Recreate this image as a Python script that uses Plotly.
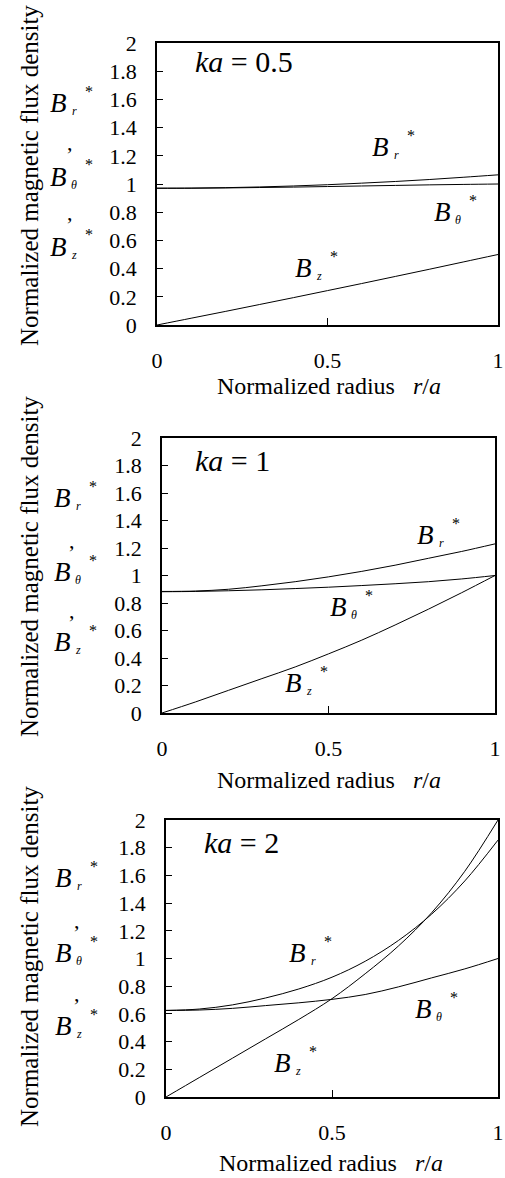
import plotly.graph_objects as go

W, H = 505, 1178

# ---- data ----
r_vals = [0.0, 0.1, 0.2, 0.3, 0.4, 0.5, 0.6, 0.7, 0.8, 0.9, 1.0]

# ka = 0.5
br_05 = [0.970, 0.971, 0.974, 0.979, 0.986, 0.995, 1.006, 1.018, 1.032, 1.048, 1.065]
bt_05 = [0.970, 0.970, 0.972, 0.975, 0.978, 0.982, 0.986, 0.990, 0.994, 0.997, 1.000]
bz_05 = [0.000, 0.048, 0.096, 0.145, 0.194, 0.244, 0.294, 0.345, 0.396, 0.448, 0.500]

# ka = 1
br_1 = [0.884, 0.887, 0.900, 0.925, 0.955, 0.990, 1.030, 1.075, 1.125, 1.175, 1.230]
bt_1 = [0.882, 0.884, 0.889, 0.896, 0.905, 0.915, 0.927, 0.940, 0.955, 0.975, 1.000]
bz_1 = [0.000, 0.080, 0.165, 0.250, 0.335, 0.430, 0.530, 0.640, 0.755, 0.875, 1.000]

# ka = 2
br_2 = [0.625, 0.635, 0.665, 0.715, 0.780, 0.865, 0.980, 1.130, 1.320, 1.560, 1.855]
bt_2 = [0.625, 0.628, 0.640, 0.660, 0.680, 0.705, 0.740, 0.795, 0.860, 0.925, 1.000]
bz_2 = [0.000, 0.140, 0.280, 0.420, 0.560, 0.710, 0.890, 1.090, 1.330, 1.630, 2.000]

panels = [
    {"ka": "0.5", "br": br_05, "bt": bt_05, "bz": bz_05},
    {"ka": "1", "br": br_1, "bt": bt_1, "bz": bz_1},
    {"ka": "2", "br": br_2, "bt": bt_2, "bz": bz_2},
]

y_ticks = [0, 0.2, 0.4, 0.6, 0.8, 1.0, 1.2, 1.4, 1.6, 1.8, 2.0]
y_ticktext = ["0", "0.2", "0.4", "0.6", "0.8", "1", "1.2", "1.4", "1.6", "1.8", "2"]
x_ticks = [0, 0.5, 1]
x_ticktext = ["0", "0.5", "1"]

# ---- layout (pixel boxes of the three plot areas) ----
boxes = [(157, 498, 43, 325), (162, 495, 438, 713), (166, 498, 820, 1097)]

def px(x):
    return x / W

def py(y):
    return 1 - y / H

F = "Liberation Serif"
fig = go.Figure()
layout = dict(
    width=W, height=H,
    margin=dict(l=0, r=0, t=0, b=0, autoexpand=False),
    paper_bgcolor="white", plot_bgcolor="white",
    showlegend=False,
    font=dict(family=F, color="black", size=20),
)

for i, p in enumerate(panels):
    n = "" if i == 0 else str(i + 1)
    xa, ya = "x" + n, "y" + n
    for key in ("br", "bt", "bz"):
        fig.add_trace(go.Scatter(x=r_vals, y=p[key], mode="lines",
                                 line=dict(color="black", width=1, shape="spline"),
                                 xaxis=xa, yaxis=ya, hoverinfo="skip"))
    x0, x1, y0, y1 = boxes[i]
    layout["xaxis" + n] = dict(
        domain=[px(x0), px(x1)], range=[0, 1], anchor=ya, automargin=False,
        tickvals=x_ticks, ticktext=x_ticktext, ticks="inside", ticklen=7,
        tickcolor="black", tickwidth=1.2,
        showline=True, linecolor="black", linewidth=1.6, mirror=True,
        showgrid=False, zeroline=False, ticklabelstandoff=15,
        tickfont=dict(family=F, size=22, color="black"),
    )
    layout["yaxis" + n] = dict(
        domain=[py(y1), py(y0)], range=[0, 2], anchor=xa, automargin=False,
        tickvals=y_ticks, ticktext=y_ticktext, ticks="inside", ticklen=6,
        tickcolor="black", tickwidth=1.2,
        showline=True, linecolor="black", linewidth=1.6, mirror=True,
        showgrid=False, zeroline=False, ticklabelstandoff=14,
        tickfont=dict(family=F, size=22, color="black"),
    )

fig.update_layout(**layout)

ann = []

def text(x, y, s, size, xanchor="left", yanchor="middle", angle=0):
    ann.append(dict(x=px(x), y=py(y), xref="paper", yref="paper", text=s,
                    showarrow=False, xanchor=xanchor, yanchor=yanchor,
                    textangle=angle,
                    font=dict(family=F, size=size, color="black")))

def blabel(x, y, sub):
    text(x, y, "<i>B</i>", 27)
    text(x + 26, y + 8, "<i>" + sub + "</i>", 12, xanchor="center")
    text(x + 41, y - 12, "*", 16, xanchor="center")

# per-panel label positions (pixel)
left_lab = [
    [(48, 103), (70, 143), (48, 177), (70, 213), (48, 247)],
    [(52, 498), (72, 540), (52, 572), (72, 610), (52, 642)],
    [(53, 878), (77, 920), (53, 953), (77, 993), (53, 1026)],
]
in_lab = [
    [(370, 147), (432, 212), (293, 268)],
    [(415, 535), (328, 607), (283, 683)],
    [(287, 953), (413, 1009), (272, 1063)],
]
ka_pos = [(193, 62), (193, 460), (202, 842)]
ytitle_pos = [(30, 176), (30, 567), (30, 957)]
xtitle_pos = [(329, 386), (329, 780), (331, 1163)]

for i, p in enumerate(panels):
    L = left_lab[i]
    blabel(L[0][0], L[0][1], "r")
    text(L[1][0], L[1][1], ",", 22, xanchor="center")
    blabel(L[2][0], L[2][1], "θ")
    text(L[3][0], L[3][1], ",", 22, xanchor="center")
    blabel(L[4][0], L[4][1], "z")
    I = in_lab[i]
    blabel(I[0][0], I[0][1], "r")
    blabel(I[1][0], I[1][1], "θ")
    blabel(I[2][0], I[2][1], "z")
    text(ka_pos[i][0], ka_pos[i][1], "<i>ka</i> = " + p["ka"], 30)
    text(ytitle_pos[i][0], ytitle_pos[i][1], "Normalized magnetic flux density", 25,
         xanchor="center", angle=-90)
    text(xtitle_pos[i][0], xtitle_pos[i][1], "Normalized radius   <i>r</i>/<i>a</i>", 24,
         xanchor="center")

fig.update_layout(annotations=ann)
fig.write_html("out.html", config={"displayModeBar": False},
               post_script="document.body.style.margin='0';")
